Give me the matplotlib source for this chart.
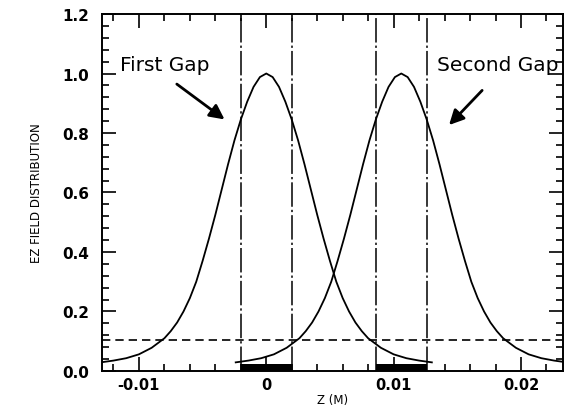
import numpy as np
import matplotlib.pyplot as plt
from matplotlib.ticker import MultipleLocator

# field profile (offset from gap centre [m], relative Ez)
offset = [0.0, 0.0005, 0.001, 0.0015, 0.002, 0.0025, 0.003, 0.0035, 0.004,
          0.0045, 0.005, 0.0055, 0.006, 0.0065, 0.007, 0.0075, 0.008,
          0.009, 0.010, 0.011, 0.012, 0.013]
field = [1.000, 0.988, 0.955, 0.905, 0.845, 0.775, 0.695, 0.610, 0.525,
         0.445, 0.370, 0.300, 0.245, 0.200, 0.163, 0.134, 0.110,
         0.078, 0.056, 0.043, 0.035, 0.029]

gap_centres = [0.0, 0.0106]
gap_half = 0.002
level = 0.105
bar_height = 0.025

fig = plt.figure(figsize=(5.65, 4.10), dpi=100)
ax = fig.add_axes([0.1805, 0.0927, 0.816, 0.8707])

off = np.array(offset)
f = np.array(field)
zz = np.concatenate([-off[::-1], off[1:]])
ee = np.concatenate([f[::-1], f[1:]])

for c in gap_centres:
    ax.plot(zz + c, ee, color='black', lw=1.3)
    ax.axvline(c - gap_half, color='black', lw=1.1, ls=(0, (16, 2, 1.5, 2)))
    ax.axvline(c + gap_half, color='black', lw=1.1, ls=(0, (16, 2, 1.5, 2)))
    ax.fill_between([c - gap_half, c + gap_half], 0, bar_height, color='black', lw=0)

ax.axhline(level, color='black', lw=1.2, ls=(0, (5, 3)))

ax.set_xlim(-0.0129, 0.0233)
ax.set_ylim(0, 1.2)
ax.xaxis.set_minor_locator(MultipleLocator(0.002))
ax.yaxis.set_minor_locator(MultipleLocator(0.04))
ax.set_xticks([-0.01, 0, 0.01, 0.02])
ax.set_xticklabels(['-0.01', '0', '0.01', '0.02'])
ax.set_yticks([0, 0.2, 0.4, 0.6, 0.8, 1.0, 1.2])
ax.set_yticklabels(['0.0', '0.2', '0.4', '0.6', '0.8', '1.0', '1.2'])
ax.tick_params(which='both', direction='in', top=True, right=True, width=1.2)
ax.tick_params(which='major', length=10)
ax.tick_params(which='minor', length=5)
ax.tick_params(axis='y', pad=9, labelsize=11)
ax.tick_params(axis='x', pad=4, labelsize=10.5)
for lab in ax.get_xticklabels() + ax.get_yticklabels():
    lab.set_fontweight('bold')
for s in ax.spines.values():
    s.set_linewidth(1.4)

ax.set_xlabel('Z (M)', fontsize=8.5, labelpad=1)
ax.set_ylabel('EZ FIELD DISTRIBUTION', fontsize=8.5, labelpad=14)

ax.text(-0.0115, 1.03, 'First Gap', fontsize=14.5, ha='left', va='center')
ax.text(0.0134, 1.03, 'Second Gap', fontsize=14.5, ha='left', va='center')
ax.annotate('', xy=(-0.0031, 0.84), xytext=(-0.0072, 0.97),
            arrowprops=dict(arrowstyle='-|>', color='black', lw=2, mutation_scale=22))
ax.annotate('', xy=(0.0142, 0.82), xytext=(0.0171, 0.95),
            arrowprops=dict(arrowstyle='-|>', color='black', lw=2, mutation_scale=22))

fig.savefig('out.png', dpi=100)
